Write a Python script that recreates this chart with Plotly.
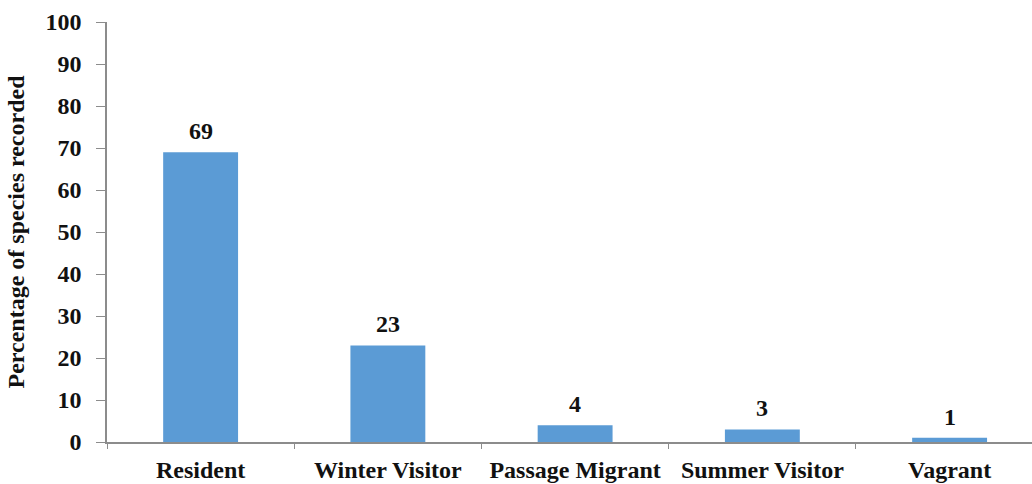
import plotly.graph_objects as go

# Residency status of recorded bird species
categories = ["Resident", "Winter Visitor", "Passage Migrant", "Summer Visitor", "Vagrant"]
percentages = [69, 23, 4, 3, 1]
y_ticks = list(range(0, 101, 10))

BAR_COLOR = "#5B9BD5"
AXIS_COLOR = "#8C8C8C"
TEXT_COLOR = "#111111"
FONT = "'Liberation Serif', 'Times New Roman', 'DejaVu Serif', serif"

bold = dict(family=FONT, size=24, color=TEXT_COLOR, weight="bold")

fig = go.Figure(
    go.Bar(
        x=categories,
        y=percentages,
        marker=dict(color=BAR_COLOR, line=dict(width=0)),
    )
)

# value labels sitting just above each bar
for cat, val in zip(categories, percentages):
    fig.add_annotation(
        x=cat,
        y=val,
        text=str(val),
        showarrow=False,
        yanchor="bottom",
        yshift=6,
        font=bold,
    )

fig.update_layout(
    width=1032,
    height=484,
    margin=dict(l=107, r=0, t=22, b=42),
    paper_bgcolor="white",
    plot_bgcolor="white",
    bargap=0.6,
    showlegend=False,
    font=bold,
)

fig.update_xaxes(
    range=[-0.5, 4.44],
    showline=True,
    linecolor=AXIS_COLOR,
    linewidth=1.5,
    ticks="outside",
    tickson="boundaries",
    ticklen=5,
    tickcolor=AXIS_COLOR,
    showgrid=False,
    ticklabelstandoff=5,
    tickfont=bold,
)

fig.update_yaxes(
    range=[0, 100],
    tickvals=y_ticks,
    showline=True,
    linecolor=AXIS_COLOR,
    linewidth=1.5,
    ticks="outside",
    ticklen=9,
    tickcolor=AXIS_COLOR,
    showgrid=False,
    zeroline=False,
    ticklabelstandoff=10,
    tickfont=bold,
    title=dict(
        text="Percentage of species recorded",
        font=bold,
        standoff=14,
    ),
)

fig.write_html("out.html")
